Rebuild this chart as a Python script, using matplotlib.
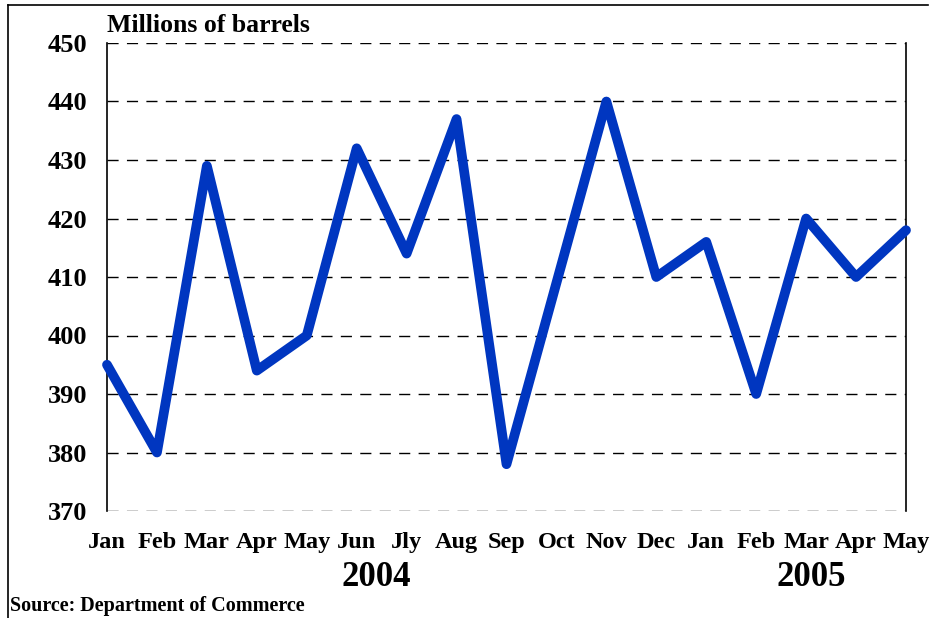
import matplotlib
matplotlib.use("Agg")
import matplotlib.pyplot as plt
from matplotlib.lines import Line2D

months = ["Jan", "Feb", "Mar", "Apr", "May", "Jun", "Jly", "Aug", "Sep", "Oct",
          "Nov", "Dec", "Jan", "Feb", "Mar", "Apr", "May"]
barrels = [395, 380, 429, 394, 400, 432, 414, 437, 378, 409,
           440, 410, 416, 390, 420, 410, 418]
yticks = [370, 380, 390, 400, 410, 420, 430, 440, 450]
years = ["2004", "2005"]
year_pos = [5.4, 14.1]

plt.rcParams["font.family"] = ["Liberation Serif", "DejaVu Serif"]
plt.rcParams["font.weight"] = "bold"

fig = plt.figure(figsize=(9.33, 6.18), dpi=100)
ax = fig.add_axes([107 / 933, 1 - 511 / 618, 799 / 933, 468 / 618])

x = list(range(len(months)))
ax.plot(x, barrels, color="#0036c0", linewidth=7, solid_joinstyle="round",
        solid_capstyle="round", clip_on=False, zorder=3)

ax.set_xlim(0, len(months) - 1)
ax.set_ylim(370, 450)
ax.set_yticks(yticks)
ax.set_xticks(x)
ax.set_xticklabels(months, fontsize=17.5, fontweight="bold")
ax.set_yticklabels([str(v) for v in yticks], fontsize=19, fontweight="bold")
ax.tick_params(axis="both", length=0)
ax.tick_params(axis="y", pad=14)
ax.tick_params(axis="x", pad=15)

for v in yticks:
    ax.axhline(v, color="black", linewidth=1, linestyle=(0, (8, 6)), zorder=1)

ax.spines["top"].set_visible(False)
ax.spines["bottom"].set_visible(False)
ax.spines["left"].set_linewidth(1.2)
ax.spines["right"].set_linewidth(1.2)

fig.text(107 / 933, 1 - 25 / 618, "Millions of barrels", fontsize=18.5,
         fontweight="bold", ha="left", va="center")
for name, pos in zip(years, year_pos):
    xf = ax.transData.transform((pos, 0))[0] / fig.bbox.width
    fig.text(xf, 1 - 578 / 618, name, fontsize=25, fontweight="bold",
             ha="center", va="center")
fig.text(10 / 933, 1 - 606 / 618, "Source: Department of Commerce", fontsize=14.5,
         fontweight="bold", ha="left", va="center")

# outer frame: top and left edges
fig.add_artist(Line2D([8 / 933, 928 / 933], [1 - 5 / 618, 1 - 5 / 618],
                      color="black", linewidth=1.2))
fig.add_artist(Line2D([8 / 933, 8 / 933], [1 - 5 / 618, 0],
                      color="black", linewidth=1.2))

fig.savefig("out.png", dpi=100)
